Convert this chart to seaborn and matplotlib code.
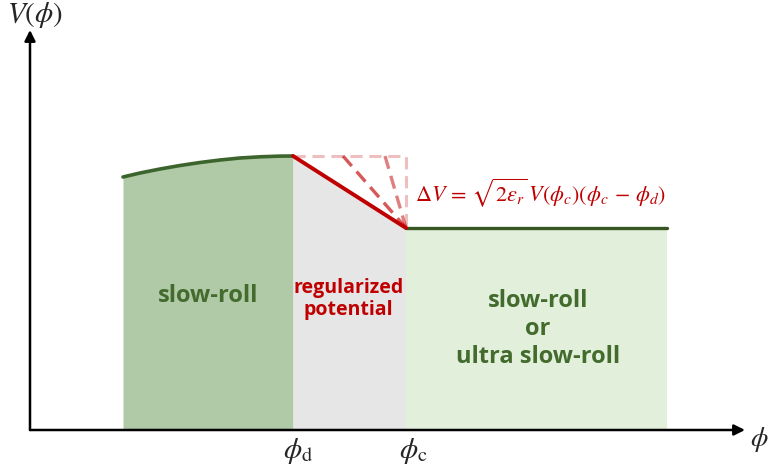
import matplotlib
matplotlib.use("Agg")
import matplotlib.pyplot as plt
import seaborn as sns
import pandas as pd

# Field positions (axis units) and potential levels
phi_start = 0.93
phi_d = 2.63
phi_c = 3.76
phi_end = 6.37
V_top = 2.74
V_flat = 2.02

# Slow-roll plateau left of phi_d
curve_phi = [0.93, 1.10, 1.30, 1.50, 1.70, 1.90, 2.10, 2.30, 2.50, 2.63]
curve_V = [2.53, 2.57, 2.61, 2.645, 2.675, 2.70, 2.72, 2.732, 2.739, 2.74]

# Alternative steeper transitions (dashed), start points on the top level
alt_start_phi = [3.13, 3.55]
alt_alpha = [0.65, 0.5]

axis_len_x = 7.15
axis_len_y = 4.00

sns.set_theme(style="white")
plt.rcParams["mathtext.fontset"] = "stix"
plt.rcParams["font.family"] = ["Open Sans", "DejaVu Sans"]

fig = plt.figure(figsize=(7.7, 4.68), dpi=100)
ax = fig.add_axes([0, 0, 1, 1])
ax.set_xlim(-0.30, 7.40)
ax.set_ylim(-0.38, 4.30)
ax.axis("off")

green_dark = "#b0c9a6"
grey = "#e6e6e6"
green_light = "#e2efda"
line_green = "#3b652c"
red = "#c00000"
text_green = "#436b2e"

# Region fills
ax.fill_between(curve_phi, 0, curve_V, color=green_dark, lw=0, zorder=1)
ax.fill_between([phi_d, phi_c], 0, [V_top, V_flat], color=grey, lw=0, zorder=1)
ax.fill_between([phi_c, phi_end], 0, V_flat, color=green_light, lw=0, zorder=1)

# Potential curves
df_curve = pd.DataFrame({"phi": curve_phi, "V": curve_V})
sns.lineplot(data=df_curve, x="phi", y="V", ax=ax, color=line_green, lw=2.6,
             sort=False, zorder=4)
df_flat = pd.DataFrame({"phi": [phi_c, phi_end], "V": [V_flat, V_flat]})
sns.lineplot(data=df_flat, x="phi", y="V", ax=ax, color="#375623", lw=2.4,
             zorder=4)

# Dashed alternatives
ax.plot([phi_d, phi_c, phi_c], [V_top, V_top, V_flat], ls=(0, (4, 2.2)),
        color=red, alpha=0.25, lw=2.2, zorder=3)
for p0, a in zip(alt_start_phi, alt_alpha):
    ax.plot([p0, phi_c], [V_top, V_flat], ls=(0, (4, 2.2)), color=red,
            alpha=a, lw=2.4, zorder=3)

# Regularized linear segment
df_reg = pd.DataFrame({"phi": [phi_d, phi_c], "V": [V_top, V_flat]})
sns.lineplot(data=df_reg, x="phi", y="V", ax=ax, color=red, lw=2.8, zorder=5)

# Axes arrows
arrow = dict(arrowstyle="-|>", color="black", lw=1.8, mutation_scale=16,
             shrinkA=0, shrinkB=0)
ax.annotate("", xy=(axis_len_x, 0), xytext=(0, 0), arrowprops=arrow, zorder=6)
ax.annotate("", xy=(0, axis_len_y), xytext=(0, 0), arrowprops=arrow, zorder=6)

# Axis labels
ax.text(-0.23, 4.15, r"$V(\phi)$", fontsize=21, ha="left", va="center")
ax.text(7.29, -0.10, r"$\phi$", fontsize=20, ha="center", va="center")
ax.text(phi_d + 0.05, -0.21, r"$\phi_{\mathrm{d}}$", fontsize=21,
        ha="center", va="center")
ax.text(phi_c + 0.07, -0.21, r"$\phi_{\mathrm{c}}$", fontsize=21,
        ha="center", va="center")

# Region labels
ax.text((phi_start + phi_d) / 2, 1.34, "slow-roll", fontsize=17,
        fontweight="bold", color=text_green, ha="center", va="center")
ax.text((phi_d + phi_c) / 2 - 0.01, 1.31, "regularized\npotential",
        fontsize=14, fontweight="bold", color=red, ha="center", va="center",
        linespacing=1.1)
ax.text(5.08, 1.01, "slow-roll\nor\nultra slow-roll", fontsize=17,
        fontweight="bold", color=text_green, ha="center", va="center",
        linespacing=1.2)

# Potential step annotation
ax.text(3.85, 2.37,
        r"$\Delta V\,=\,\sqrt{2\epsilon_r}\,V(\phi_c)(\phi_c\,-\,\phi_d)$",
        fontsize=16, color=red, ha="left", va="center")

fig.savefig("out.png", dpi=100)
